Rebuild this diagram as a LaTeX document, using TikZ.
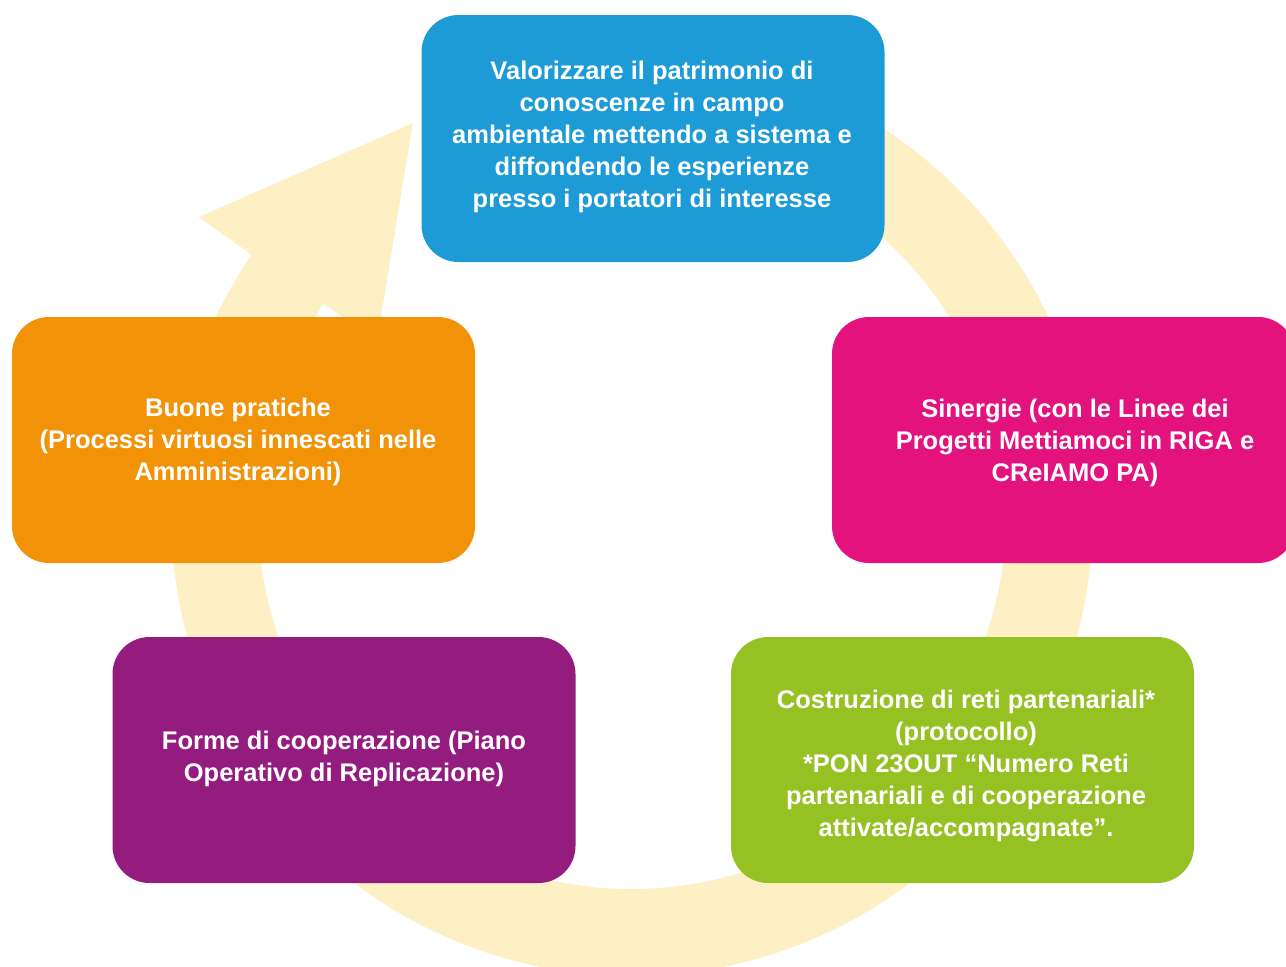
\documentclass[tikz,border=0pt]{standalone}
\usepackage{fontspec}
\setmainfont{Liberation Sans}
\definecolor{ringc}{HTML}{FDF0C4}
\definecolor{cblue}{HTML}{1C9BD7}
\definecolor{cmag}{HTML}{E3127D}
\definecolor{corange}{HTML}{F29207}
\definecolor{cpurple}{HTML}{941C7E}
\definecolor{cgreen}{HTML}{95C123}
\tikzset{
  box/.style={rectangle, rounded corners=37pt, minimum width=463pt, minimum height=246pt, inner sep=0pt, draw=none},
  label/.style={text=white, align=center, font=\fontsize{25.5}{32}\selectfont\bfseries, inner sep=0pt}
}
\begin{document}
\begin{tikzpicture}[x=1pt,y=1pt]
\useasboundingbox (0,0) rectangle (1286,-967);
% circular arrow
\begin{scope}[shift={(632,-515)}]
\fill[ringc] (90:461) arc[start angle=90, end angle=-214.4, radius=461]
  -- (-214.5:526) -- (-240.8:449) -- (-214.4:309) -- (-214.4:374)
  arc[start angle=-214.4, end angle=90, radius=374] -- cycle;
\end{scope}
% boxes
\node[box, fill=cblue, minimum height=247pt] (b1) at (653,-138.5) {};
\node[box, fill=cmag] (b2) at (1063.5,-440) {};
\node[box, fill=corange] (b3) at (243.5,-440) {};
\node[box, fill=cpurple] (b4) at (344,-760) {};
\node[box, fill=cgreen] (b5) at (962.5,-760) {};
% texts
\node[label] (t1) at (652,-136.5) {Valorizzare il patrimonio di\\conoscenze in campo\\ambientale mettendo a sistema e\\diffondendo le esperienze\\presso i portatori di interesse};
\node[label] (t2) at (1075,-442.5) {Sinergie (con le Linee dei\\Progetti Mettiamoci in RIGA e\\CReIAMO PA)};
\node[label] (t3) at (238,-441.5) {Buone pratiche\\(Processi virtuosi innescati nelle\\Amministrazioni)};
\node[label] (t4) at (344,-758.5) {Forme di cooperazione (Piano\\Operativo di Replicazione)};
\node[label] (t5) at (966,-765.5) {Costruzione di reti partenariali*\\(protocollo)\\*PON 23OUT “Numero Reti\\partenariali e di cooperazione\\attivate/accompagnate”.};
\end{tikzpicture}
\end{document}
